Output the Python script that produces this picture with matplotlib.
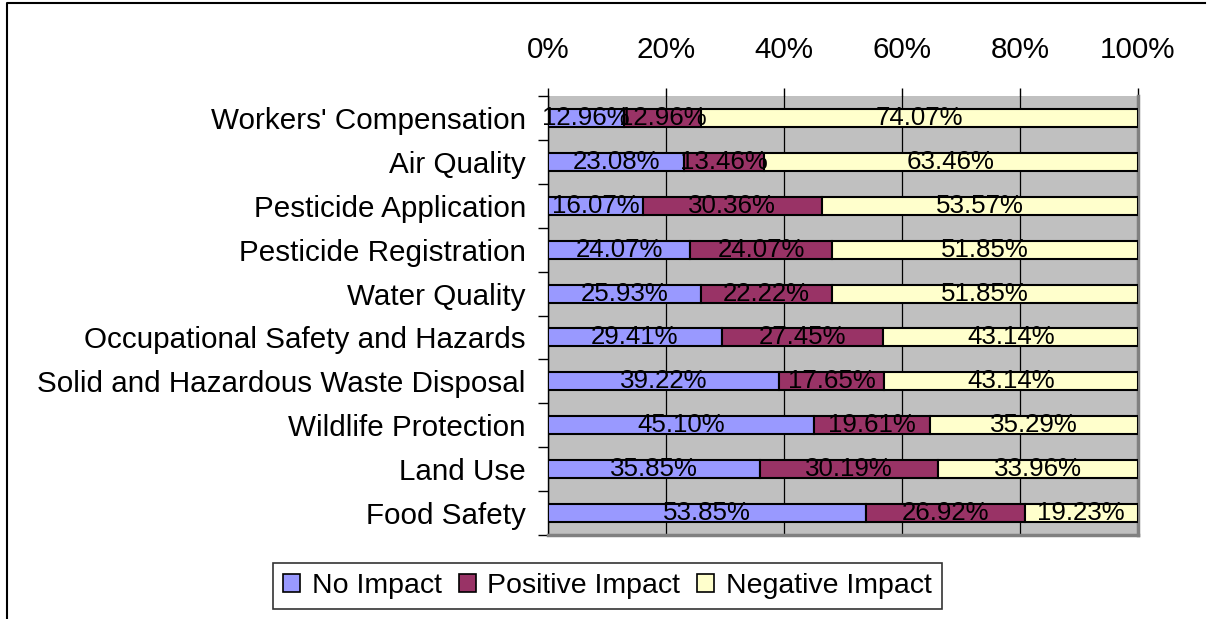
import matplotlib
matplotlib.use("Agg")
import matplotlib.pyplot as plt
from matplotlib.lines import Line2D
import numpy as np

plt.rcParams['font.family'] = ['Liberation Sans', 'DejaVu Sans']

categories = [
    "Workers' Compensation",
    "Air Quality",
    "Pesticide Application",
    "Pesticide Registration",
    "Water Quality",
    "Occupational Safety and Hazards",
    "Solid and Hazardous Waste Disposal",
    "Wildlife Protection",
    "Land Use",
    "Food Safety",
]
no_impact = [12.96, 23.08, 16.07, 24.07, 25.93, 29.41, 39.22, 45.10, 35.85, 53.85]
positive_impact = [12.96, 13.46, 30.36, 24.07, 22.22, 27.45, 17.65, 19.61, 30.19, 26.92]
negative_impact = [74.07, 63.46, 53.57, 51.85, 51.85, 43.14, 43.14, 35.29, 33.96, 19.23]
series_names = ["No Impact", "Positive Impact", "Negative Impact"]
series_colors = ["#9999FF", "#993366", "#FFFFCC"]
x_ticks = [0, 20, 40, 60, 80, 100]
x_tick_labels = ["0%", "20%", "40%", "60%", "80%", "100%"]

W, H = 1207, 619
fig = plt.figure(figsize=(W / 100, H / 100), dpi=100)

# outer frame (left and top edges)
fig.add_artist(Line2D([7 / W, 7 / W, 1205 / W], [0, (H - 3) / H, (H - 3) / H],
                      transform=fig.transFigure, color="black", linewidth=1.5))

ax = fig.add_axes([548 / W, (H - 535) / H, (1138 - 548) / W, (535 - 96) / H])
ax.set_facecolor("#C0C0C0")

y = np.arange(len(categories))
series = [no_impact, positive_impact, negative_impact]
left = np.zeros(len(categories))
bar_h = 0.41
for vals, name, col in zip(series, series_names, series_colors):
    vals = np.array(vals)
    ax.barh(y, vals, left=left, height=bar_h, color=col,
            edgecolor="black", linewidth=1.5, label=name, zorder=3)
    for yi, l, v in zip(y, left, vals):
        ax.text(l + v / 2, yi, f"{v:.2f}%", ha="center", va="center",
                fontsize=18.6, color="black", zorder=4)
    left = left + vals

ax.set_xlim(0, 100)
ax.set_ylim(len(categories) - 0.5, -0.5)
ax.xaxis.tick_top()
ax.set_xticks(x_ticks)
ax.set_xticklabels(x_tick_labels, fontsize=21.3)
ax.tick_params(axis="x", length=6, width=1, color="black", pad=17)
ax.grid(axis="x", color="black", linewidth=0.9, zorder=1)

ax.set_yticks(y)
ax.set_yticklabels(categories, fontsize=21.3)
ax.tick_params(axis="y", length=0, pad=16)
ax.set_yticks(np.arange(len(categories) + 1) - 0.5, minor=True)
ax.tick_params(axis="y", which="minor", length=7, width=1, color="black")

ax.spines["top"].set_visible(False)
ax.spines["left"].set_color("black")
ax.spines["left"].set_linewidth(1)
for s in ["right", "bottom"]:
    ax.spines[s].set_color("#808080")
    ax.spines[s].set_linewidth(2.5)

leg = fig.legend(loc="center", bbox_to_anchor=((275 + 940) / 2 / W, (H - 586) / H),
                 ncol=3, fontsize=20.5, frameon=True, fancybox=False,
                 edgecolor="black", handlelength=0.6, handleheight=0.6,
                 handletextpad=0.4, columnspacing=0.6, borderpad=0.35)
leg.get_frame().set_linewidth(1.2)
for h in leg.legend_handles:
    h.set_linewidth(1.2)

fig.savefig("out.png", dpi=100)
